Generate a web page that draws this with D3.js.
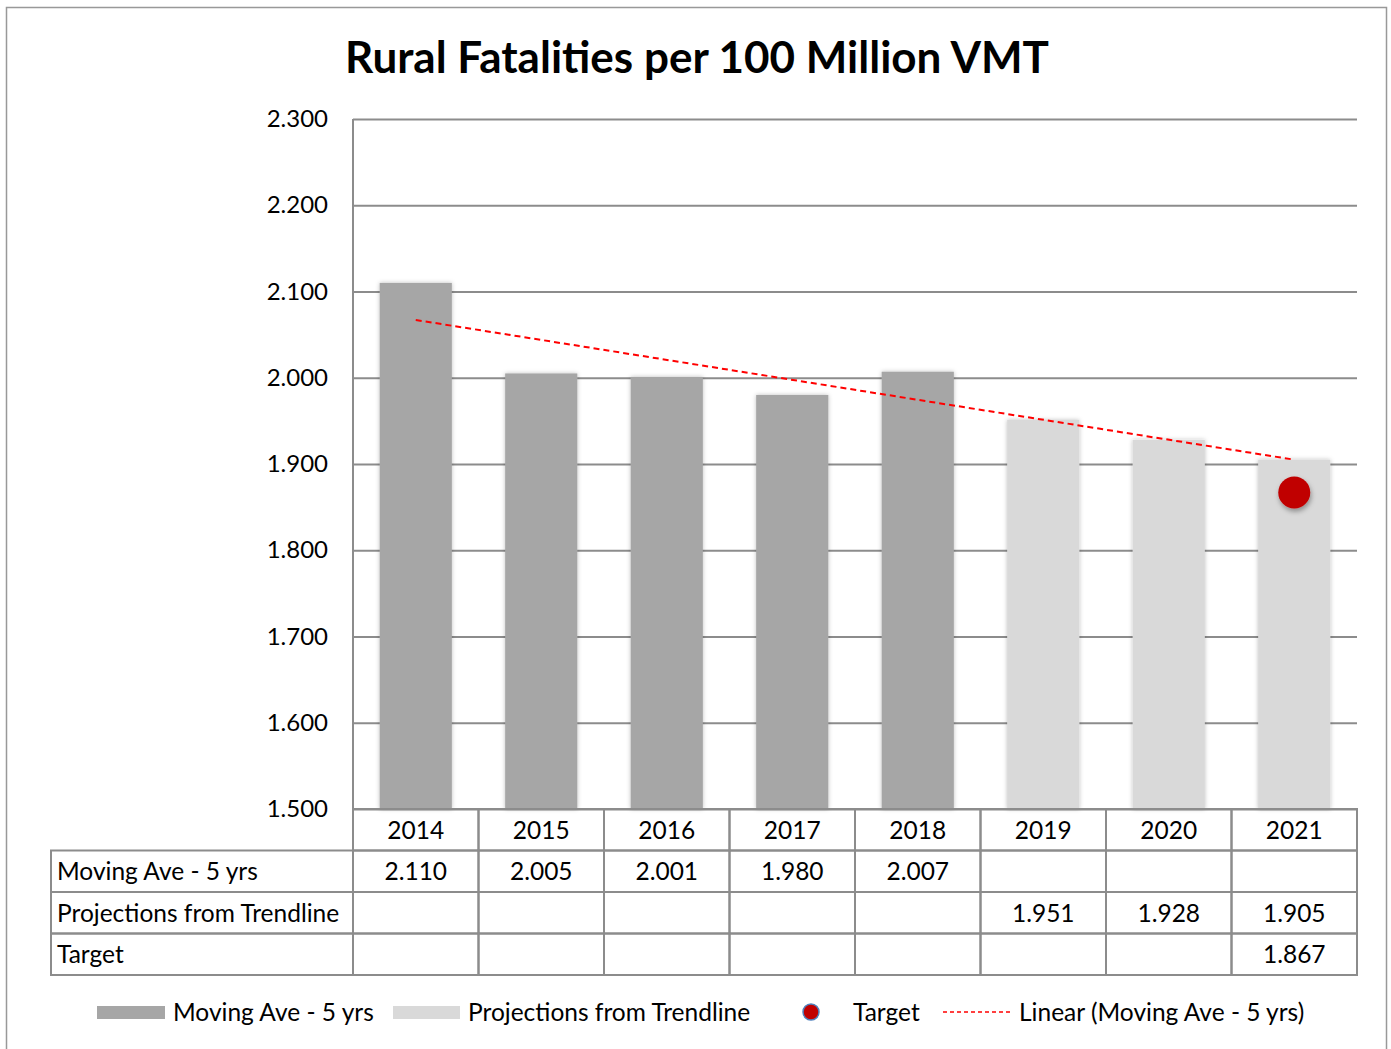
<!DOCTYPE html>
<meta charset="utf-8">
<style>
  body { margin: 0; background: #fff; }
  svg { font-family: Lato, "Open Sans", sans-serif; }
</style>
<body>
<svg width="1391" height="1049"></svg>
<script src="https://cdnjs.cloudflare.com/ajax/libs/d3/7.8.5/d3.min.js"></script>
<script>

var years = ["2014", "2015", "2016", "2017", "2018", "2019", "2020", "2021"];
var movingAve = [2.110, 2.005, 2.001, 1.980, 2.007, null, null, null];
var projections = [null, null, null, null, null, 1.951, 1.928, 1.905];
var target = [null, null, null, null, null, null, null, 1.867];
var trendYears = ["2014", "2021"];
var trendValues = [2.067, 1.905];
var yTicks = [1.5, 1.6, 1.7, 1.8, 1.9, 2.0, 2.1, 2.2, 2.3];
var rowLabels = ["Moving Ave - 5 yrs", "Projections from Trendline", "Target"];

var svg = d3.select("svg");
var plot = {left: 353, right: 1357, top: 119, bottom: 809};
var grid = "#8c8c8c";
var fmt = d3.format(".3f");
var fs = "24.5px";

// outer frame
svg.append("rect")
  .attr("x", 6.5).attr("y", 7.5)
  .attr("width", 1380).attr("height", 1060)
  .attr("fill", "none").attr("stroke", "#999").attr("stroke-width", 1.5);

svg.append("text")
  .attr("x", 697).attr("y", 73)
  .attr("text-anchor", "middle")
  .style("font-weight", "bold")
  .style("font-size", "44px")
  .text("Rural Fatalities per 100 Million VMT");

var x = d3.scaleBand().domain(years).range([plot.left, plot.right]);
var y = d3.scaleLinear().domain([1.5, 2.3]).range([plot.bottom, plot.top]);
var barW = x.bandwidth() * 0.575;

var defs = svg.append("defs");
var f = defs.append("filter").attr("id", "shadow")
  .attr("x", "-20%").attr("y", "-20%").attr("width", "140%").attr("height", "140%");
f.append("feDropShadow").attr("dx", 0).attr("dy", 0).attr("stdDeviation", 2)
  .attr("flood-color", "#000").attr("flood-opacity", 0.25);
var f2 = defs.append("filter").attr("id", "dotshadow")
  .attr("x", "-50%").attr("y", "-50%").attr("width", "200%").attr("height", "200%");
f2.append("feDropShadow").attr("dx", 1).attr("dy", 3).attr("stdDeviation", 2.5)
  .attr("flood-color", "#000").attr("flood-opacity", 0.35);

// gridlines + y axis labels
var yAxis = svg.append("g")
  .attr("transform", "translate(" + plot.left + ",0)")
  .call(d3.axisLeft(y).tickValues(yTicks).tickSize(-(plot.right - plot.left)).tickPadding(25).tickFormat(fmt));
yAxis.select(".domain").remove();
yAxis.selectAll("line").attr("stroke", grid).attr("stroke-width", 2);
yAxis.selectAll("text").style("font-size", "24px").attr("fill", "#000").attr("font-family", "Lato");

svg.append("line")
  .attr("x1", plot.left).attr("x2", plot.left)
  .attr("y1", plot.top).attr("y2", plot.bottom)
  .attr("stroke", grid).attr("stroke-width", 2);

// bars
function bars(values, color) {
  svg.append("g").selectAll("rect")
    .data(years.map(function(d, i) { return {year: d, v: values[i]}; }).filter(function(d) { return d.v != null; }))
    .enter().append("rect")
    .attr("x", function(d) { return x(d.year) + (x.bandwidth() - barW) / 2; })
    .attr("y", function(d) { return y(d.v); })
    .attr("width", barW)
    .attr("height", function(d) { return y(1.5) - y(d.v); })
    .attr("fill", color)
    .attr("filter", "url(#shadow)");
}
bars(movingAve, "#a6a6a6");
bars(projections, "#d9d9d9");

// trendline
var trend = d3.line()
  .x(function(d, i) { return x(trendYears[i]) + x.bandwidth() / 2; })
  .y(function(d) { return y(d); });
svg.append("path")
  .attr("d", trend(trendValues))
  .attr("fill", "none").attr("stroke", "#ff0000")
  .attr("stroke-width", 2).attr("stroke-dasharray", "6,4");

// target dot
svg.append("g").selectAll("circle")
  .data(years.map(function(d, i) { return {year: d, v: target[i]}; }).filter(function(d) { return d.v != null; }))
  .enter().append("circle")
  .attr("cx", function(d) { return x(d.year) + x.bandwidth() / 2; })
  .attr("cy", function(d) { return y(d.v); })
  .attr("r", 16)
  .attr("fill", "#c00000")
  .attr("filter", "url(#dotshadow)");

// data table
var rowH = 41.5;
var tableLeft = 51;
var tbl = svg.append("g");
var rows = [movingAve, projections, target];

// header row (years)
years.forEach(function(yr) {
  tbl.append("rect")
    .attr("x", x(yr)).attr("y", plot.bottom)
    .attr("width", x.bandwidth()).attr("height", rowH)
    .attr("fill", "none").attr("stroke", grid).attr("stroke-width", 2);
  tbl.append("text")
    .attr("x", x(yr) + x.bandwidth() / 2).attr("y", plot.bottom + rowH / 2 + 9)
    .attr("text-anchor", "middle").style("font-size", fs)
    .text(yr);
});

rows.forEach(function(vals, r) {
  var ry = plot.bottom + rowH * (r + 1);
  tbl.append("rect")
    .attr("x", tableLeft).attr("y", ry)
    .attr("width", plot.left - tableLeft).attr("height", rowH)
    .attr("fill", "none").attr("stroke", grid).attr("stroke-width", 2);
  tbl.append("text")
    .attr("x", tableLeft + 6).attr("y", ry + rowH / 2 + 9)
    .style("font-size", fs)
    .text(rowLabels[r]);
  years.forEach(function(yr, i) {
    tbl.append("rect")
      .attr("x", x(yr)).attr("y", ry)
      .attr("width", x.bandwidth()).attr("height", rowH)
      .attr("fill", "none").attr("stroke", grid).attr("stroke-width", 2);
    if (vals[i] != null) {
      tbl.append("text")
        .attr("x", x(yr) + x.bandwidth() / 2).attr("y", ry + rowH / 2 + 9)
        .attr("text-anchor", "middle").style("font-size", fs)
        .text(fmt(vals[i]));
    }
  });
});

// legend
var leg = svg.append("g").style("font-size", fs);
var ly = 1012;
leg.append("rect").attr("x", 97).attr("y", ly - 6).attr("width", 68).attr("height", 13).attr("fill", "#a6a6a6");
leg.append("text").attr("x", 173).attr("y", ly + 9).text("Moving Ave - 5 yrs");
leg.append("rect").attr("x", 393).attr("y", ly - 6).attr("width", 67).attr("height", 13).attr("fill", "#d9d9d9");
leg.append("text").attr("x", 468).attr("y", ly + 9).text("Projections from Trendline");
leg.append("circle").attr("cx", 811).attr("cy", ly).attr("r", 8)
  .attr("fill", "#c00000").attr("stroke", "#4f81bd").attr("stroke-width", 1.5);
leg.append("text").attr("x", 853).attr("y", ly + 9).text("Target");
leg.append("line").attr("x1", 943).attr("x2", 1012).attr("y1", ly).attr("y2", ly)
  .attr("stroke", "#ff0000").attr("stroke-width", 1.5).attr("stroke-dasharray", "4,3");
leg.append("text").attr("x", 1019).attr("y", ly + 9).text("Linear (Moving Ave - 5 yrs)");

</script>
</body>
